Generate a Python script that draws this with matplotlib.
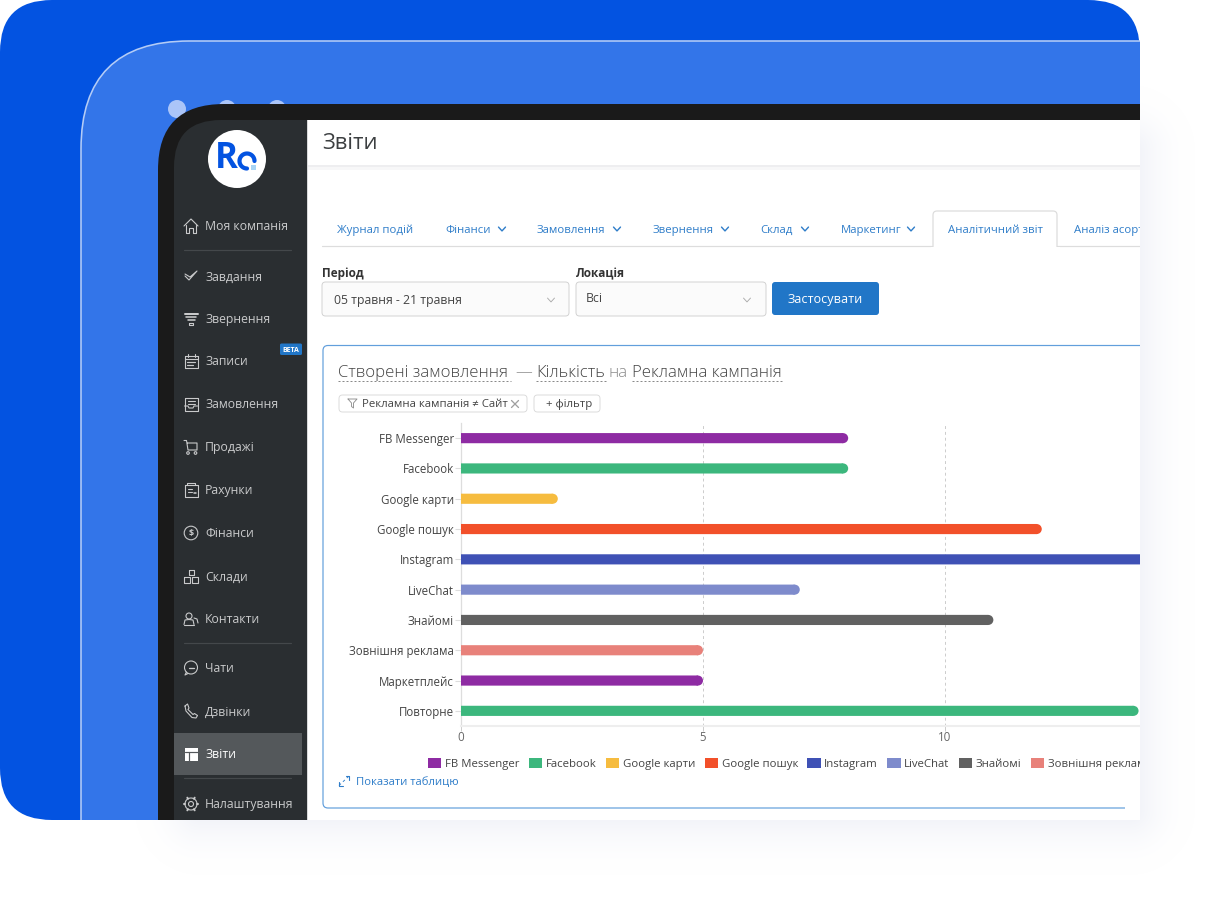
import numpy as np
import matplotlib
matplotlib.use('Agg')
import matplotlib.pyplot as plt
from matplotlib.patches import FancyBboxPatch, Rectangle, Circle, Patch

plt.rcParams['font.family'] = ['Open Sans', 'Noto Sans', 'DejaVu Sans']

# chart values (Instagram runs past the crop, 15 is an estimate)
categories = ['FB Messenger', 'Facebook', 'Google карти', 'Google пошук', 'Instagram',
              'LiveChat', 'Знайомі', 'Зовнішня реклама', 'Маркетплейс', 'Повторне']
values = [8, 8, 2, 12, 15, 7, 11, 5, 5, 14]
colors = ['#8e2ba3', '#3cb77d', '#f6bc3f', '#f2502a', '#3f51b5',
          '#7e8bcc', '#616161', '#e8817a', '#8e2ba3', '#3cb77d']
x_ticks = [0, 5, 10]
x_max = 14.03
legend_shown = 8  # the rest of the legend is outside the crop

# text of the page around the chart
menu_items = [('home', 'Моя компанія', 226), ('check', 'Завдання', 276), ('funnel', 'Звернення', 319),
              ('calendar', 'Записи', 361), ('inbox', 'Замовлення', 404), ('cart', 'Продажі', 447),
              ('receipt', 'Рахунки', 490), ('coin', 'Фінанси', 533), ('boxes', 'Склади', 576),
              ('people', 'Контакти', 619), ('chat', 'Чати', 668), ('phone', 'Дзвінки', 711),
              ('gear', 'Налаштування', 804)]
tabs = [('Журнал подій', 337, None), ('Фінанси', 445, 502), ('Замовлення', 537, 617),
        ('Звернення', 653, 725), ('Склад', 760, 805), ('Маркетинг', 841, 911),
        ('Аналітичний звіт', 948, None), ('Аналіз асортименту', 1074, None)]
title_parts = [('Створені замовлення', 338, True), ('—', 515, False), ('Кількість', 536, True),
               ('на', 609, False), ('Рекламна кампанія', 632, True)]
title_ends = [511, 606, 783]

W, H = 1220, 900
fig = plt.figure(figsize=(12.2, 9), dpi=100, facecolor='white')


def px_axes(left, top, right, bottom, z):
    a = fig.add_axes([left / W, 1 - bottom / H, (right - left) / W, (bottom - top) / H])
    a.set_zorder(z)
    a.patch.set_alpha(0)
    return a


ui = px_axes(0, 0, W, H, 0)
ui.set_xlim(0, W)
ui.set_ylim(H, 0)
ui.axis('off')


def box(x0, y0, x1, y1, r=0, fc='white', ec='none', lw=0, z=1):
    if r > 0:
        p = FancyBboxPatch((x0, y0), x1 - x0, y1 - y0, boxstyle='round,pad=0,rounding_size=%s' % r,
                           fc=fc, ec=ec, lw=lw * 0.72, zorder=z)
    else:
        p = Rectangle((x0, y0), x1 - x0, y1 - y0, fc=fc, ec=ec, lw=lw * 0.72, zorder=z)
    ui.add_patch(p)


def label(x, y, s, px=12, color='#444444', ha='left', weight='normal', z=6):
    # y is the middle of the capitals, so sit the baseline a bit below it
    ui.text(x, y + 0.36 * px, s, fontsize=px * 0.72, color=color, ha=ha, va='baseline', weight=weight, zorder=z)


def stroke(xs, ys, color, lw=1.0, z=6, ls='-'):
    ui.plot(xs, ys, color=color, lw=lw * 0.72, zorder=z, ls=ls, solid_capstyle='round', solid_joinstyle='round')


def chevron(x, y, color, size=3.5, lw=1.4):
    stroke([x - size, x, x + size], [y - size * 0.55, y + size * 0.55, y - size * 0.55], color, lw)


# backdrop, window frame
box(0, 0, 1140, 820, r=52, fc='#0353e1', z=1)
box(81, 41, 1400, 1100, r=108, fc='#3375e9', ec='#b4ccf6', lw=1.6, z=2)
for dot_x in [177, 227, 277]:
    ui.add_patch(Circle((dot_x, 109), 9, fc='#abc5f8', ec='none', zorder=2.5))
box(158, 104, 1400, 1100, r=66, fc='#1a1a1a', z=3)
box(174, 120, 1400, 1100, r=47, fc='#2a2e31', z=3.2)
box(308, 120, 1400, 1100, fc='white', z=3.4)
box(306.5, 120, 308, 1100, fc='#d8d9da', z=3.5)

# logo
ui.add_patch(Circle((237, 159), 29, fc='white', ec='none', zorder=4))
ui.text(226.5, 158.5, 'R', fontsize=25, color='#0353e1', ha='center', va='center', weight='bold', zorder=5)
t = np.radians(np.linspace(0, 270, 30))
stroke(247 + 7.5 * np.cos(t), 161 - 7.5 * np.sin(t), '#0353e1', lw=4.2, z=5)
box(251, 165, 256, 170, fc='#a8d4f5', z=5.2)


def icon(kind, cx, cy, c):
    def line(xs, ys, lw=1.1):
        stroke(np.array(xs) + cx, np.array(ys) + cy, c, lw)

    def ring(dx, dy, r, lw=1.1):
        ui.add_patch(Circle((cx + dx, cy + dy), r, fc='none', ec=c, lw=lw * 0.72, zorder=6))

    if kind == 'home':
        line([-7, 0, 7], [0, -7, 0])
        line([-5, -5, -2, -2, 2, 2, 5, 5], [-1, 7, 7, 2, 2, 7, 7, -1])
    elif kind == 'check':
        line([-6, -2, 6, -1, -6], [0, 4, -5, 1, -2])
    elif kind == 'funnel':
        line([-6.5, 6.5], [-5, -5], 2)
        line([-5, 5], [-2, -2], 1.6)
        line([-3.5, 3.5], [1, 1], 1.6)
        line([-2, 2, 2, -2, -2], [4, 4, 6, 6, 4])
    elif kind == 'calendar':
        line([-6.5, 6.5, 6.5, -6.5, -6.5], [-5, -5, 6.5, 6.5, -5])
        line([-6.5, 6.5], [-2, -2])
        line([-3.5, -3.5], [-7, -4])
        line([3.5, 3.5], [-7, -4])
        line([-4, -1.5, 1.5, 4], [1, 1, 1, 1], 1.2)
        line([-4, -1.5, 1.5], [4, 4, 4], 1.2)
    elif kind == 'inbox':
        line([-6.5, 6.5, 6.5, -6.5, -6.5], [-6.5, -6.5, 6.5, 6.5, -6.5])
        line([-6.5, -3, -2, 2, 3, 6.5], [2, 2, 4, 4, 2, 2])
        line([-3.5, 3.5], [-3, -3])
        line([-3.5, 3.5], [-0.5, -0.5])
    elif kind == 'cart':
        line([-7, -4.5, -3, 6, 6, -3.5], [-6.5, -6.5, 3, 3, -4, -4])
        ring(-3, 6, 1.3)
        ring(4.5, 6, 1.3)
    elif kind == 'receipt':
        line([-6.5, -6.5, 6.5, 6.5, -6.5], [-5, 6.5, 6.5, -5, -5])
        line([-4, -4, 4, 4], [-5, -7, -7, -5])
        line([-3.5, 1], [-1, -1])
        line([-3.5, 1], [2, 2])
        line([2.5, 4.5], [3, 3], 1.6)
    elif kind == 'coin':
        ring(0, 0, 6.8)
        label(cx, cy - 0.3, '$', px=9, color=c, ha='center', weight='bold')
    elif kind == 'boxes':
        line([-2.5, 2.5, 2.5, -2.5, -2.5], [-6.5, -6.5, -1.5, -1.5, -6.5])
        line([-7, -1, -1, -7, -7], [1, 1, 6.5, 6.5, 1])
        line([1, 7, 7, 1, 1], [1, 1, 6.5, 6.5, 1])
    elif kind == 'people':
        ring(-2, -3, 3)
        line([-7, -6, -2, 2, 3], [5.5, 1, 0.5, 1, 5.5])
        line([-7, 3], [5.5, 5.5])
        line([3, 6, 7], [-1, 0, 4])
    elif kind == 'chat':
        ring(0, -0.5, 6.5)
        line([-4.5, -6, -3], [4, 7, 5.5])
        line([-2.5, 0, 2.5], [-0.5, -0.5, -0.5], 1.3)
    elif kind == 'phone':
        line([-6, -3.5, -2, -3, 2, 3.5, 6.5, 5, 1, -5, -6], [-5, -7, -3, -1.5, 3.5, 2.5, 4.5, 7, 6.5, 0, -5])
    elif kind == 'gear':
        ring(0, 0, 2.5)
        ring(0, 0, 6)
        for a in np.radians(np.arange(0, 360, 60)):
            line([6 * np.cos(a), 7.3 * np.cos(a)], [6 * np.sin(a), 7.3 * np.sin(a)], 2)


# sidebar menu
for kind, name, y in menu_items:
    icon(kind, 191, y, '#c9cacb')
    label(205, y, name, px=12.2, color='#c9cacb')
for y in [250, 643, 778]:
    stroke([184, 291], [y, y], '#44484b', lw=1.2, z=5)
box(174, 733, 302, 775, fc='#54585b', z=4)
box(184.5, 747.5, 198, 760.5, fc='white', z=6)
stroke([184.5, 198], [751.5, 751.5], '#54585b', lw=1.2, z=6.5)
stroke([189, 189], [751.5, 760.5], '#54585b', lw=1.2, z=6.5)
label(205, 754, 'Звіти', px=12.2, color='#ffffff')
box(280, 343.5, 302, 355, r=1.5, fc='#2176c7', z=5)
label(291, 349.3, 'BETA', px=7, color='white', ha='center', weight='bold')

# header
label(322, 141, 'Звіти', px=22, color='#3c3f41')
box(308, 165, 1400, 167, fc='#eeeef0', z=3.6)
box(308, 167, 1400, 170, fc='#f7f7f8', z=3.6)

# tabs
stroke([322, 1400], [246, 246], '#dddddd', lw=1.2, z=4)
box(933, 211, 1057, 260, r=4, fc='white', ec='#dcdcdc', lw=1.2, z=4.2)
box(931, 247, 1060, 262, fc='white', z=4.3)
for name, x, chev in tabs:
    label(x, 229, name, px=11.4, color='#2f7dc9')
    if chev is not None:
        chevron(chev, 229, '#2f7dc9')

# filter form
label(322, 273, 'Період', px=11.8, color='#333333', weight='bold')
label(576, 273, 'Локація', px=11.8, color='#333333', weight='bold')
box(322, 282, 569, 316, r=3.5, fc='#fbfbfb', ec='#cfcfcf', lw=0.9, z=4)
box(576, 282, 766, 316, r=3.5, fc='#fbfbfb', ec='#cfcfcf', lw=0.9, z=4)
label(334, 300, '05 травня - 21 травня', px=12.2, color='#444444')
label(586, 297.5, 'Всі', px=12.2, color='#444444')
chevron(551, 300, '#aaaaaa', size=3.5, lw=0.9)
chevron(747, 300, '#aaaaaa', size=3.5, lw=0.9)
box(772, 282, 879, 315, r=3, fc='#2176c7', z=4)
label(825.5, 298.5, 'Застосувати', px=12.6, color='white', ha='center', weight='medium')

# chart card
box(323, 345.5, 1400, 808, r=5, fc='white', ec='#629fdc', lw=1.2, z=4)
box(1125, 700, 1400, 812, fc='white', z=4.1)

for s, x, dashed in title_parts:
    label(x, 371, s, px=16.8, color='#444444' if dashed else '#8a8a8a', weight='light')
for (s, x, dashed), x_end in zip([p for p in title_parts if p[2]], title_ends):
    stroke([x, x_end], [381, 381], '#8a8a8a', lw=1, ls=(0, (2, 2)))

box(339, 395, 527, 412, r=3.5, fc='white', ec='#d9d9d9', lw=0.9, z=5)
box(534, 395, 600, 412, r=3.5, fc='white', ec='#d9d9d9', lw=0.9, z=5)
stroke([348, 357, 353.5, 353.5, 351.5, 351.5, 348], [399, 399, 403, 408, 406.5, 403, 399], '#8f8f8f', lw=0.9)
label(362, 403, 'Рекламна кампанія ≠ Сайт', px=11.4, color='#444444')
stroke([511.5, 518.5], [400.5, 407.5], '#a0a0a0', lw=1.3)
stroke([511.5, 518.5], [407.5, 400.5], '#a0a0a0', lw=1.3)
label(546, 403, '+ фільтр', px=11.4, color='#444444')

# show table link
stroke([339, 349], [785.5, 776], '#2f7dc9', lw=0.9, ls=(0, (3, 3)))
stroke([339, 339, 342.5], [781.5, 785.5, 785.5], '#2f7dc9', lw=1.1)
stroke([345.5, 349, 349], [776, 776, 780], '#2f7dc9', lw=1.1)
label(355.5, 781, 'Показати таблицю', px=11.3, color='#2f7dc9')

# the chart itself
ax = px_axes(461, 423, 1140, 726, 2)
pos = np.arange(len(categories))
val = np.array(values, dtype=float)
cap = 5 / (679 / x_max)  # round end of a bar, 5 px in data units
ax.barh(pos, val - cap, height=0.335, color=colors, zorder=3, snap=False, linewidth=0)
ax.scatter(val - cap, pos, s=52, c=colors, linewidths=0, zorder=3)
ax.set_xlim(0, x_max)
ax.set_ylim(len(categories) - 0.5, -0.5)
ax.set_yticks(pos)
ax.set_yticklabels(categories, fontsize=8.3, color='#444444')
ax.set_xticks(x_ticks)
ax.tick_params(axis='y', length=4, width=0.8, color='#dddddd', pad=1)
ax.tick_params(axis='x', length=3.6, width=0.7, color='#cccccc', labelsize=8.3, labelcolor='#666666', pad=0)
ax.grid(axis='x', color='#cccccc', lw=0.7, ls=(0, (3, 3)))
ax.set_axisbelow(True)
for side in ['top', 'right']:
    ax.spines[side].set_visible(False)
ax.spines['left'].set_color('#dddddd')
ax.spines['left'].set_linewidth(0.9)
ax.spines['bottom'].set_color('#eeeeee')
ax.spines['bottom'].set_linewidth(1.5)

handles = [Patch(facecolor=c, label=n) for c, n in zip(colors, categories)][:legend_shown]
ax.legend(handles=handles, ncol=len(handles), frameon=False, loc='upper left',
          bbox_to_anchor=(428 / W, 1 - 758.5 / H), bbox_transform=fig.transFigure,
          fontsize=8.2, handlelength=1.18, handleheight=0.88, handletextpad=0.3,
          columnspacing=0.83, borderpad=0, borderaxespad=0, labelcolor='#444444')

# soft shadow outside the crop, opaque so it also trims everything at x=1140 / y=820
gx, gy = np.meshgrid(np.arange(W) + 0.5, np.arange(H) + 0.5)
dx = np.maximum(np.maximum(200 - gx, gx - 1130), 0)
dy = np.maximum(np.maximum(150 - gy, gy - 810), 0)
d = np.hypot(dx, dy)
k = np.clip(1 - d / 65, 0, 1) ** 2
shadow = np.zeros((H, W, 4))
tint = np.array([0xee, 0xf0, 0xf7]) / 255
for i in range(3):
    shadow[..., i] = 1 - (1 - tint[i]) * k
shadow[..., 3] = 1
shadow[(gx < 1140) & (gy < 820), 3] = 0
top = px_axes(0, 0, W, H, 3)
top.imshow(shadow, extent=(0, W, H, 0), aspect='auto', interpolation='nearest')
top.axis('off')

fig.savefig('out.png', dpi=100)
